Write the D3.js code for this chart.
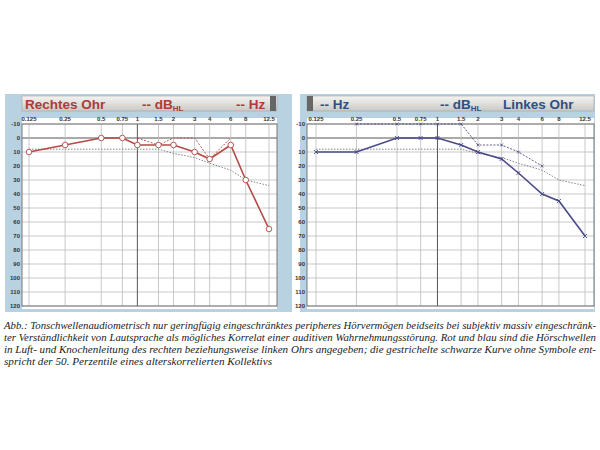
<!DOCTYPE html>
<html><head><meta charset="utf-8">
<script src="https://cdn.jsdelivr.net/npm/d3@7"></script>
<style>body{margin:0;background:#fff}</style>
</head><body>
<script>
const freqs = [0.125, 0.25, 0.5, 0.75, 1, 1.5, 2, 3, 4, 6, 8, 12.5];
const freqLabels = ["0.125","0.25","0.5","0.75","1","1.5","2","3","4","6","8","12.5"];
const dbTicks = [-10,0,10,20,30,40,50,60,70,80,90,100,110,120];

const rightAir = [10, 5, 0, 0, 5, 5, 5, 10, 15, 5, 30, 65];
const rightBoneF = [1, 1.5, 2, 3, 4, 6];
const rightBone = [0, 5, 0, 0, 15, 0];
const leftAir = [10, 10, 0, 0, 0, 5, 10, 15, 25, 40, 45, 70];
const leftBoneF = [0.25, 0.5, 0.75, 1, 1.5, 2, 3, 4, 6];
const leftBone = [-10, -10, -10, -10, -10, 5, 5, 10, 20];
const normF = [0.125, 1.5, 2, 3, 4, 6, 8, 12.5];
const norm = [8, 8, 11, 14, 18, 23, 30, 34];

const caption = [
 "Abb.: Tonschwellenaudiometrisch nur geringfügig eingeschränktes peripheres Hörvermögen beidseits bei subjektiv massiv eingeschränk-",
 "ter Verständlichkeit von Lautsprache als mögliches Korrelat einer auditiven Wahrnehmungsstörung. Rot und blau sind die Hörschwellen",
 "in Luft- und Knochenleitung des rechten beziehungsweise linken Ohrs angegeben; die gestrichelte schwarze Kurve ohne Symbole ent-",
 "spricht der 50. Perzentile eines alterskorrelierten Kollektivs"
];

const svg = d3.select("body").append("svg").attr("width", 600).attr("height", 450);

const grad = svg.append("defs").append("linearGradient").attr("id","hdr").attr("x1",0).attr("x2",0).attr("y1",0).attr("y2",1);
grad.append("stop").attr("offset","0").attr("stop-color","#f4f4f2");
grad.append("stop").attr("offset","1").attr("stop-color","#c9c9c6");

svg.append("rect").attr("x",5).attr("y",94).attr("width",590).attr("height",218).attr("fill","#b9d2e2");
svg.append("rect").attr("x",292).attr("y",94).attr("width",8).attr("height",218).attr("fill","#fff");

function panel(o) {
  const x = d3.scaleLog().domain([0.125, 12.5]).range([o.x0 + o.pad, o.x1 - o.padR]);
  const y = d3.scaleLinear().domain([-10, 120]).range([124, 306]);
  const g = svg.append("g");
  g.append("rect").attr("x",o.x0).attr("y",118).attr("width",o.x1-o.x0).attr("height",191).attr("fill","#fff");
  g.append("rect").attr("x",o.x0).attr("y",96).attr("width",o.x1-o.x0).attr("height",15).attr("fill","url(#hdr)").attr("stroke","#999").attr("stroke-width",0.5);
  g.append("rect").attr("x",o.sq).attr("y",96).attr("width",6).attr("height",15).attr("fill","#666");
  o.hdr.forEach(h => {
    const t = g.append("text").attr("x",h.x).attr("y",108.5).attr("fill",o.color)
      .attr("font-family","Liberation Sans, Arial").attr("font-weight","bold").attr("font-size",13.5).text(h.t);
    if (h.sub) t.append("tspan").attr("font-size",8).attr("dy",2).text(h.sub);
  });
  g.selectAll(".h").data(dbTicks).join("line").attr("x1",o.x0).attr("x2",o.x1)
    .attr("y1",d=>y(d)).attr("y2",d=>y(d)).attr("stroke",d=>d===0?"#555":"#bbb").attr("stroke-width",d=>d===0?1:0.8);
  g.selectAll(".v").data(freqs).join("line").attr("x1",d=>x(d)).attr("x2",d=>x(d))
    .attr("y1",y(-10)).attr("y2",y(120)).attr("stroke",d=>d===1?"#555":"#bbb").attr("stroke-width",d=>d===1?1:0.8);
  g.append("rect").attr("x",o.x0).attr("y",y(-10)).attr("width",o.x1-o.x0).attr("height",y(120)-y(-10))
    .attr("fill","none").attr("stroke","#777");
  g.selectAll(".fl").data(freqs).join("text").attr("x",d=>x(d)).attr("y",121).attr("text-anchor","middle")
    .attr("font-family","Liberation Sans, Arial").attr("font-weight","bold").attr("font-size",6).attr("fill","#333")
    .text((d,i)=>freqLabels[i]);
  g.selectAll(".yl").data(dbTicks).join("text").attr("x",o.x0-2).attr("y",d=>y(d)+2)
    .attr("text-anchor","end").attr("font-family","Liberation Sans, Arial").attr("font-weight","bold")
    .attr("font-size",6).attr("fill","#333").text(d=>d);
  const line = d3.line().x(d=>x(d[0])).y(d=>y(d[1]));
  g.append("path").datum(d3.zip(normF, norm)).attr("d",line).attr("fill","none").attr("stroke","#777").attr("stroke-width",0.9).attr("stroke-dasharray","1.5,1.5");
  g.append("path").datum(d3.zip(o.boneF, o.bone)).attr("d",line).attr("fill","none").attr("stroke",o.lc).attr("stroke-width",0.9).attr("stroke-dasharray","2,1.5");
  g.append("path").datum(d3.zip(freqs, o.air)).attr("d",line).attr("fill","none").attr("stroke",o.lc).attr("stroke-width",1.6);
  const pts = d3.zip(freqs, o.air);
  if (o.circle) {
    g.selectAll(".p").data(pts).join("circle").attr("cx",d=>x(d[0])).attr("cy",d=>y(d[1])).attr("r",2.8)
      .attr("fill","#fff").attr("stroke",o.lc).attr("stroke-width",0.9);
  } else {
    g.selectAll(".p").data(pts).join("path")
      .attr("d",d=>{const cx=x(d[0]),cy=y(d[1]);return `M${cx-2},${cy-2}L${cx+2},${cy+2}M${cx-2},${cy+2}L${cx+2},${cy-2}`;})
      .attr("stroke",o.lc).attr("stroke-width",0.9);
    g.selectAll(".b").data(d3.zip(o.boneF,o.bone)).join("path")
      .attr("d",d=>{const cx=x(d[0]),cy=y(d[1]);return `M${cx-1.5},${cy-1.5}L${cx+1.5},${cy+1.5}M${cx-1.5},${cy+1.5}L${cx+1.5},${cy-1.5}`;})
      .attr("stroke",o.lc).attr("stroke-width",0.7);
  }
}

panel({x0:22,x1:277,pad:7,padR:8,sq:270,color:"#b03a35",lc:"#b34a45",air:rightAir,boneF:rightBoneF,bone:rightBone,circle:true,
  hdr:[{x:25,t:"Rechtes Ohr"},{x:142,t:"-- dB",sub:"HL"},{x:236,t:"-- Hz"}]});
panel({x0:307,x1:594,pad:9,padR:9,sq:307,color:"#2e4f86",lc:"#4a4a8a",air:leftAir,boneF:leftBoneF,bone:leftBone,circle:false,
  hdr:[{x:320,t:"-- Hz"},{x:440,t:"-- dB",sub:"HL"},{x:503,t:"Linkes Ohr"}]});

svg.selectAll(".cap").data(caption).join("text").attr("x",4).attr("y",(d,i)=>329+i*12)
  .attr("font-family","Liberation Serif, Times New Roman").attr("font-style","italic").attr("font-size",11)
  .attr("fill","#222")
  .each(function(d,i){
    d3.select(this).attr("lengthAdjust","spacingAndGlyphs").attr("textLength", i<3 ? 592 : 268);
  })
  .text(d=>d);
</script>
</body></html>
